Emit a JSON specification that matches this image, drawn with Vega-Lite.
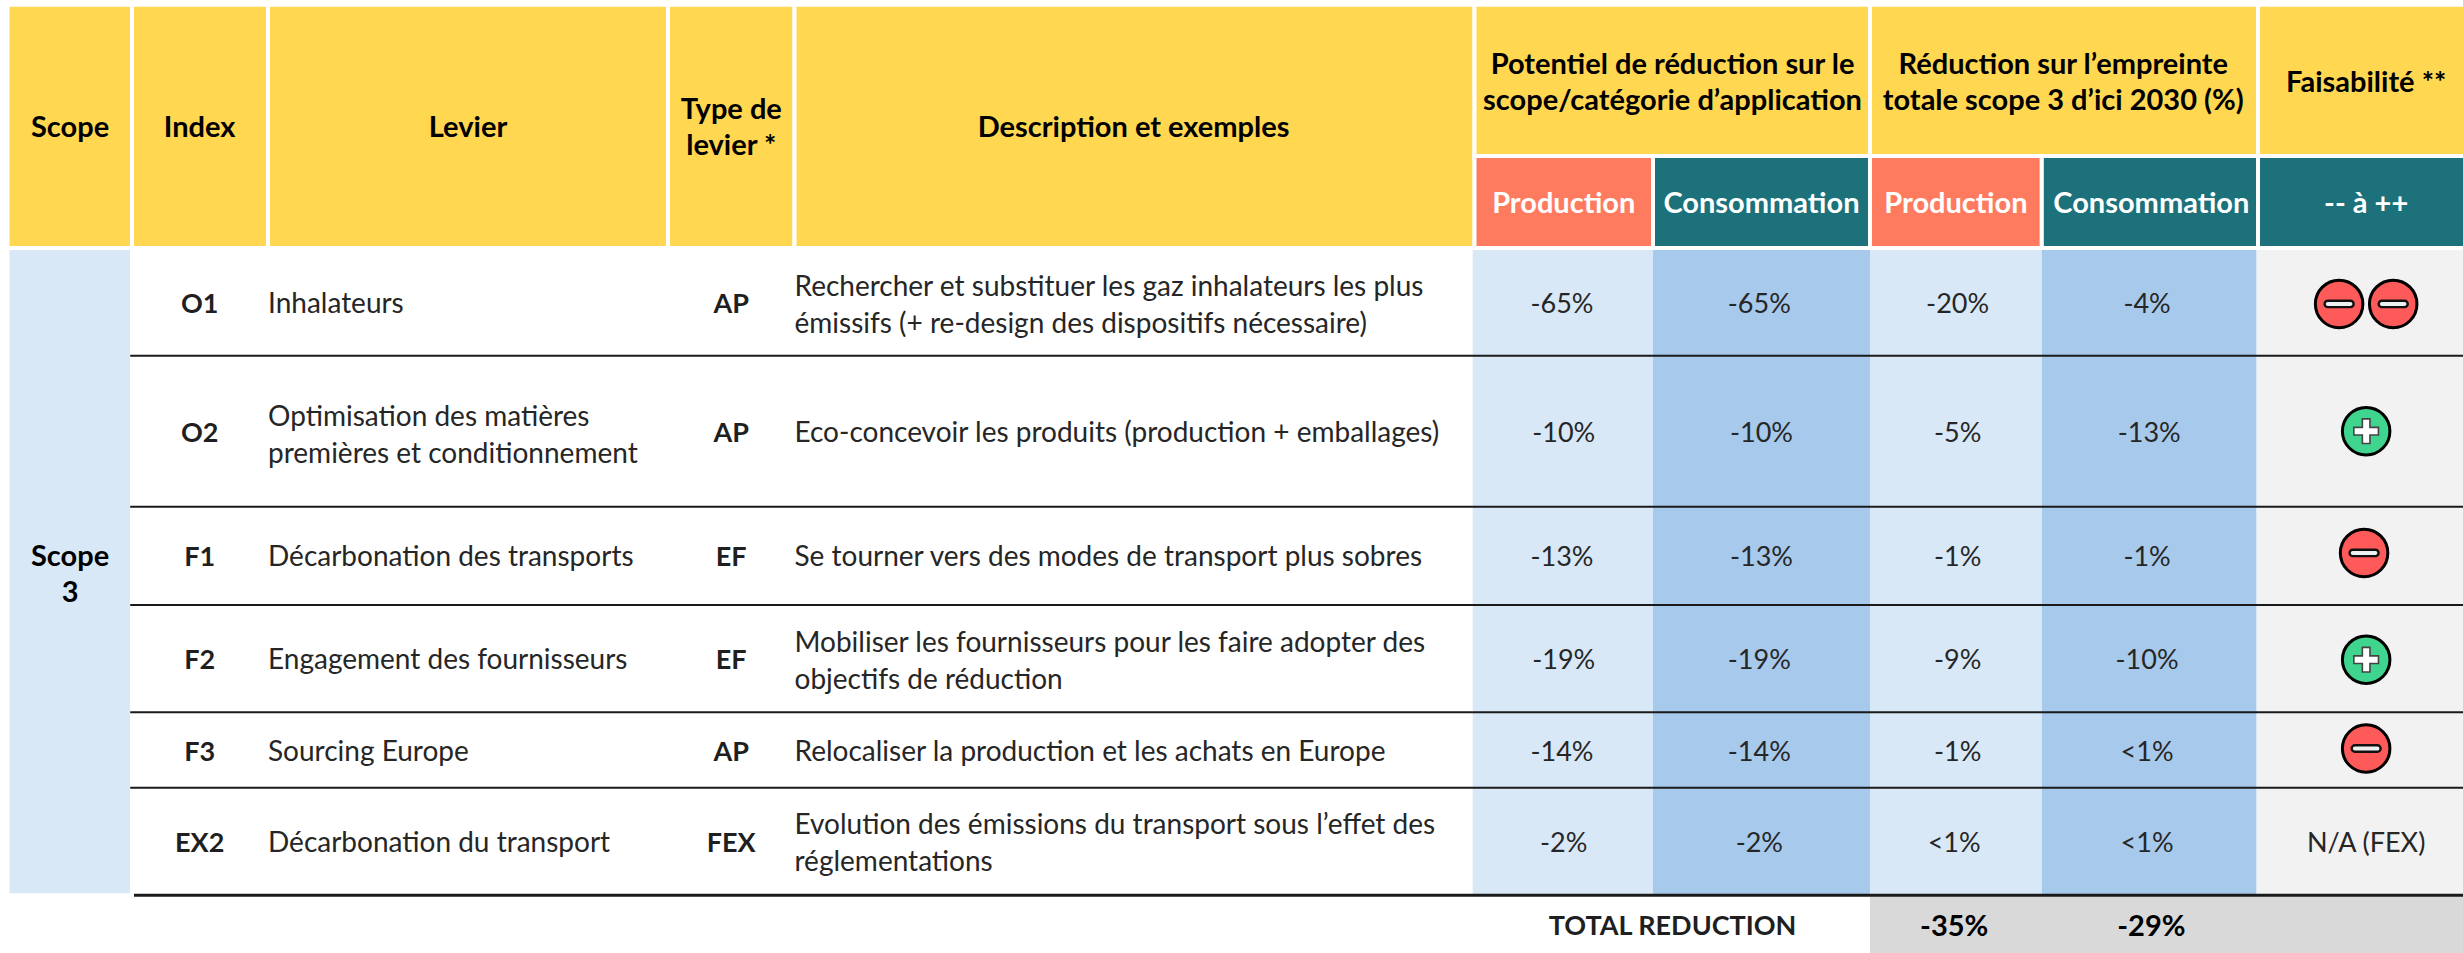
{
"$schema":"https://vega.github.io/schema/vega-lite/v6.json",
"width":2463,"height":953,"padding":0,"autosize":{"type":"none"},
"background":"#ffffff",
"config":{"view":{"stroke":null},"text":{"font":"Lato"}},
"datasets":{
"frame":[
{"cell":"Scope","x":0,"x2":2,"y":0,"y2":2,"tone":"head"},
{"cell":"Index","x":2,"x2":4,"y":0,"y2":2,"tone":"head"},
{"cell":"Levier","x":4,"x2":5,"y":0,"y2":2,"tone":"head"},
{"cell":"Type","x":5,"x2":6,"y":0,"y2":2,"tone":"head"},
{"cell":"Description","x":6,"x2":8,"y":0,"y2":2,"tone":"head"},
{"cell":"Potentiel","x":8,"x2":10,"y":0,"y2":1,"tone":"head"},
{"cell":"Reduction","x":10,"x2":13,"y":0,"y2":1,"tone":"head"},
{"cell":"Faisabilite","x":13,"x2":14,"y":0,"y2":1,"tone":"head"},
{"cell":"Prod1","x":8,"x2":9,"y":1,"y2":2,"tone":"prod"},
{"cell":"Cons1","x":9,"x2":10,"y":1,"y2":2,"tone":"cons"},
{"cell":"Prod2","x":10,"x2":11,"y":1,"y2":2,"tone":"prod"},
{"cell":"Cons2","x":11,"x2":13,"y":1,"y2":2,"tone":"cons"},
{"cell":"Echelle","x":13,"x2":14,"y":1,"y2":2,"tone":"cons"},
{"cell":"Scope3","x":0,"x2":2,"y":2,"y2":9,"tone":"light"}
],
"columns":[
{"cell":"Pot prod","x":7,"x2":9,"y":3,"y2":9,"tone":"light"},
{"cell":"Pot cons","x":9,"x2":10,"y":3,"y2":9,"tone":"mid"},
{"cell":"Red prod","x":10,"x2":11,"y":3,"y2":9,"tone":"light"},
{"cell":"Red cons","x":11,"x2":12,"y":3,"y2":9,"tone":"mid"},
{"cell":"Faisa","x":12,"x2":14,"y":3,"y2":9,"tone":"grey"},
{"cell":"Total","x":10,"x2":14,"y":9,"y2":10,"tone":"total"}
],
"separators":[
{"x":1,"x2":14,"y":4},{"x":1,"x2":14,"y":5},{"x":1,"x2":14,"y":6},{"x":1,"x2":14,"y":7},{"x":1,"x2":14,"y":8}
],
"closing":[{"x":3,"x2":14,"y":9}],
"headers":[
{"t":"Scope","x":0.51,"y":0.8},
{"t":"Index","x":3.49,"y":0.8},
{"t":"Levier","x":4.5,"y":0.8},
{"t":"Description et exemples","x":6.5,"y":0.8},
{"t":"Faisabilité **","x":13.52,"y":0.5},
{"t":"-35%","x":10.49,"y":9.5},
{"t":"-29%","x":11.51,"y":9.5}
],
"headers2":[
{"t":"Type de\nlevier *","x":5.5,"y":0.8},
{"t":"Potentiel de réduction sur le\nscope/catégorie d’application","x":9.09,"y":0.5},
{"t":"Réduction sur l’empreinte\ntotale scope 3 d’ici 2030 (%)","x":11.1,"y":0.5},
{"t":"Scope\n3","x":0.51,"y":5.67}
],
"subheaders":[
{"t":"Production","x":8.5,"y":1.5},
{"t":"Consommation","x":9.5,"y":1.5},
{"t":"Production","x":10.5,"y":1.5},
{"t":"Consommation","x":11.51,"y":1.5},
{"t":"-- à ++","x":13.52,"y":1.5}
],
"codes":[
{"t":"O1","x":3.49,"y":3.5},{"t":"AP","x":5.5,"y":3.5},
{"t":"O2","x":3.49,"y":4.5},{"t":"AP","x":5.5,"y":4.5},
{"t":"F1","x":3.49,"y":5.5},{"t":"EF","x":5.5,"y":5.5},
{"t":"F2","x":3.49,"y":6.5},{"t":"EF","x":5.5,"y":6.5},
{"t":"F3","x":3.49,"y":7.5},{"t":"AP","x":5.5,"y":7.5},
{"t":"EX2","x":3.49,"y":8.5},{"t":"FEX","x":5.5,"y":8.5},
{"t":"TOTAL REDUCTION","x":9.09,"y":9.5}
],
"labels":[
{"t":"Inhalateurs","x":4,"y":3.5},
{"t":"Décarbonation des transports","x":4,"y":5.5},
{"t":"Engagement des fournisseurs","x":4,"y":6.5},
{"t":"Sourcing Europe","x":4,"y":7.5},
{"t":"Décarbonation du transport","x":4,"y":8.5},
{"t":"Eco-concevoir les produits (production + emballages)","x":6,"y":4.5},
{"t":"Se tourner vers des modes de transport plus sobres","x":6,"y":5.5},
{"t":"Relocaliser la production et les achats en Europe","x":6,"y":7.5}
],
"labels2":[
{"t":"Optimisation des matières\npremières et conditionnement","x":4,"y":4.51},
{"t":"Rechercher et substituer les gaz inhalateurs les plus\némissifs (+ re-design des dispositifs nécessaire)","x":6,"y":3.5},
{"t":"Mobiliser les fournisseurs pour les faire adopter des\nobjectifs de réduction","x":6,"y":6.5},
{"t":"Evolution des émissions du transport sous l’effet des\nréglementations","x":6,"y":8.5}
],
"values":[
{"t":"-65%","x":8.49,"y":3.5},{"t":"-65%","x":9.49,"y":3.5},{"t":"-20%","x":10.51,"y":3.5},{"t":"-4%","x":11.49,"y":3.5},
{"t":"-10%","x":8.5,"y":4.5},{"t":"-10%","x":9.5,"y":4.5},{"t":"-5%","x":10.51,"y":4.5},{"t":"-13%","x":11.5,"y":4.5},
{"t":"-13%","x":8.49,"y":5.5},{"t":"-13%","x":9.5,"y":5.5},{"t":"-1%","x":10.51,"y":5.5},{"t":"-1%","x":11.49,"y":5.5},
{"t":"-19%","x":8.5,"y":6.5},{"t":"-19%","x":9.49,"y":6.5},{"t":"-9%","x":10.51,"y":6.5},{"t":"-10%","x":11.49,"y":6.5},
{"t":"-14%","x":8.49,"y":7.5},{"t":"-14%","x":9.49,"y":7.5},{"t":"-1%","x":10.51,"y":7.5},{"t":"<1%","x":11.49,"y":7.5},
{"t":"-2%","x":8.5,"y":8.5},{"t":"-2%","x":9.49,"y":8.5},{"t":"<1%","x":10.49,"y":8.5},{"t":"<1%","x":11.49,"y":8.5},
{"t":"N/A (FEX)","x":13.52,"y":8.5}
],
"feasibility":[
{"lever":"O1","sign":"minus","x":13.39,"y":3.51},
{"lever":"O1","sign":"minus","x":13.65,"y":3.51},
{"lever":"O2","sign":"plus","x":13.52,"y":4.5},
{"lever":"F1","sign":"minus","x":13.51,"y":5.47},
{"lever":"F2","sign":"plus","x":13.52,"y":6.51},
{"lever":"F3","sign":"minus","x":13.52,"y":7.48}
]
},
"encoding":{
"x":{"field":"x","type":"quantitative","axis":null,"scale":{"domain":[0,1,2,3,4,5,6,7,8,9,10,11,12,13,14],"range":[7.5,130.2,132,134,268,668,794.5,1472.7,1474.5,1653,1870,2041.8,2256.6,2258,2466]}},
"y":{"field":"y","type":"quantitative","axis":null,"scale":{"domain":[0,1,2,3,4,5,6,7,8,9,10],"range":[4.7,156,248,250,355.7,506.7,605,712.3,787.7,895.2,953]}}
},
"layer":[
{"data":{"name":"columns"},"mark":{"type":"rect"},"encoding":{"x2":{"field":"x2"},"y2":{"field":"y2"},
"color":{"field":"tone","type":"nominal","legend":null,"scale":{"domain":["head","prod","cons","light","mid","grey","total"],"range":["#FFD750","#FF7B60","#1C717A","#D9E8F7","#A7C9EB","#F2F2F2","#D9D9D9"]}}}},
{"data":{"name":"frame"},"mark":{"type":"rect","stroke":"#ffffff","strokeWidth":4},"encoding":{"x2":{"field":"x2"},"y2":{"field":"y2"},
"color":{"field":"tone","type":"nominal","legend":null}}},
{"data":{"name":"separators"},"mark":{"type":"rule","color":"#1a1a1a","strokeWidth":2},"encoding":{"x2":{"field":"x2"}}},
{"data":{"name":"closing"},"mark":{"type":"rule","color":"#1a1a1a","strokeWidth":3},"encoding":{"x2":{"field":"x2"}}},
{"data":{"name":"headers"},"mark":{"type":"text","font":"Lato","fontWeight":"bold","fontSize":29,"baseline":"middle","align":"center","color":"#000000","dy":2.5},"encoding":{"text":{"field":"t","type":"nominal"}}},
{"data":{"name":"headers2"},"mark":{"type":"text","font":"Lato","fontWeight":"bold","fontSize":29,"lineHeight":36,"lineBreak":"\n","baseline":"middle","align":"center","color":"#000000","dy":-15.5},"encoding":{"text":{"field":"t","type":"nominal"}}},
{"data":{"name":"subheaders"},"mark":{"type":"text","font":"Lato","fontWeight":"bold","fontSize":29,"baseline":"middle","align":"center","color":"#ffffff","dy":2},"encoding":{"text":{"field":"t","type":"nominal"}}},
{"data":{"name":"codes"},"mark":{"type":"text","font":"Lato","fontWeight":"bold","fontSize":27,"baseline":"middle","align":"center","color":"#1f1f1f","dy":2.5},"encoding":{"text":{"field":"t","type":"nominal"}}},
{"data":{"name":"labels"},"mark":{"type":"text","font":"Lato","fontSize":28,"baseline":"middle","align":"left","color":"#262626","dy":2.5},"encoding":{"text":{"field":"t","type":"nominal"}}},
{"data":{"name":"labels2"},"mark":{"type":"text","font":"Lato","fontSize":28,"lineHeight":37,"lineBreak":"\n","baseline":"middle","align":"left","color":"#262626","dy":-15},"encoding":{"text":{"field":"t","type":"nominal"}}},
{"data":{"name":"values"},"mark":{"type":"text","font":"Lato","fontSize":27,"baseline":"middle","align":"center","color":"#262626","dy":2.5},"encoding":{"text":{"field":"t","type":"nominal"}}},
{"data":{"name":"feasibility"},"mark":{"type":"point","shape":"circle","filled":true,"size":2256,"opacity":1,"stroke":"#000000","strokeWidth":3},"encoding":{
"fill":{"field":"sign","type":"nominal","legend":null,"scale":{"domain":["minus","plus"],"range":["#FF5A5A","#3FD58F"]}}}},
{"data":{"name":"feasibility"},"transform":[{"filter":"datum.sign === 'minus'"}],"mark":{"type":"point","filled":true,"size":1600,"opacity":1,"fill":"#ECF1F1","stroke":"#111111","strokeWidth":2.4,"shape":"M-0.565,-0.16 H0.565 A0.16,0.16 0 0 1 0.565,0.16 H-0.565 A0.16,0.16 0 0 1 -0.565,-0.16 Z"}},
{"data":{"name":"feasibility"},"transform":[{"filter":"datum.sign === 'plus'"}],"mark":{"type":"point","filled":true,"size":1600,"opacity":1,"fill":"#FFFFFF","stroke":"#444444","strokeWidth":1.6,"shape":"M-0.19,-0.615 H0.19 V-0.19 H0.615 V0.19 H0.19 V0.615 H-0.19 V0.19 H-0.615 V-0.19 H-0.19 Z"}}
]
}
